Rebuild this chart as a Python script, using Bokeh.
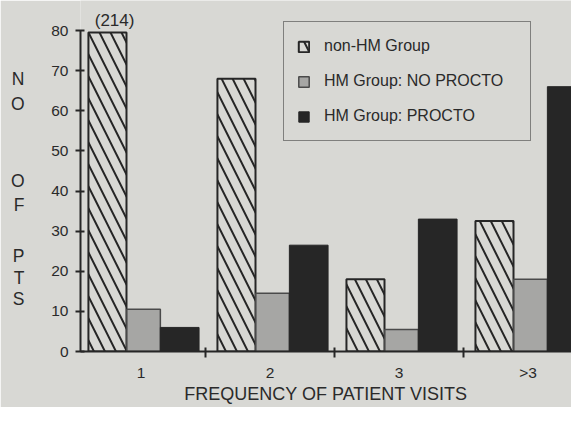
from bokeh.plotting import figure
from bokeh.models import (Range1d, FixedTicker, Label, Legend, LegendItem,
                          ColumnDataSource, LinearAxis)
from bokeh.embed import file_html
from bokeh.resources import INLINE

# ---- data ----
categories = ["1", "2", "3", ">3"]
series_names = ["non-HM Group", "HM Group: NO PROCTO", "HM Group: PROCTO"]
non_hm = [214, 68, 18, 32.5]
hm_no_procto = [10.5, 14.5, 5.5, 18]
hm_procto = [6, 26.5, 33, 66]
y_ticks = [0, 10, 20, 30, 40, 50, 60, 70, 80]
y_cap = 80
y_title = "NO OF PTS"
x_title = "FREQUENCY OF PATIENT VISITS"

# ---- style ----
BG = "#d8d8d4"
INK = "#262626"
TXT = "#2a2a2a"
GRAY = "#a6a6a4"
FONT = "Liberation Sans"

idx = list(range(len(categories)))

p = figure(width=571, height=407, output_backend="svg", toolbar_location=None,
           x_range=Range1d(0.031, 3.837), y_range=Range1d(0, 87.48),
           min_border_left=80, min_border_right=0, min_border_top=0,
           min_border_bottom=56)
p.background_fill_color = BG
p.border_fill_color = BG
p.outline_line_color = None
p.xgrid.visible = False
p.ygrid.visible = False

shown = [min(v, y_cap - 0.5) for v in non_hm]
src1 = ColumnDataSource(dict(x=[i + 0.24 for i in idx], top=shown))
src2 = ColumnDataSource(dict(x=[i + 0.52 for i in idx], top=hm_no_procto))
src3 = ColumnDataSource(dict(x=[i + 0.80 for i in idx], top=hm_procto))

r1 = p.vbar(x="x", top="top", width=0.295, source=src1, fill_color=BG,
            line_color=INK, line_width=2, hatch_pattern="\\", hatch_color=INK,
            hatch_weight=2, hatch_scale=22)
r2 = p.vbar(x="x", top="top", width=0.26, source=src2, fill_color=GRAY,
            line_color="#4a4a4a", line_width=1.5)
r3 = p.vbar(x="x", top="top", width=0.30, source=src3, fill_color=INK,
            line_color=INK, line_width=1)

# label of the clipped bar
p.add_layout(Label(x=0 + 0.295, y=82.5, text="(%d)" % non_hm[0], text_align="center",
                   text_baseline="middle", text_font=FONT, text_font_size="17px",
                   text_color=TXT))

# axes
xa = p.xaxis[0]
xa.ticker = FixedTicker(ticks=[i + 0.5 for i in idx], minor_ticks=idx[1:])
xa.major_label_overrides = {i + 0.5: c for i, c in zip(idx, categories)}
xa.axis_line_color = INK
xa.axis_line_width = 2
xa.major_tick_line_color = None
xa.major_tick_in = 0
xa.major_tick_out = 0
xa.minor_tick_line_color = INK
xa.minor_tick_line_width = 2
xa.minor_tick_in = 4
xa.minor_tick_out = 6
xa.major_label_standoff = 6
xa.major_label_text_font = FONT
xa.major_label_text_font_size = "15.5px"
xa.major_label_text_color = TXT
xa.major_label_text_line_height = 0.9
xa.axis_label = x_title
xa.axis_label_text_font = FONT
xa.axis_label_text_font_size = "18px"
xa.axis_label_text_font_style = "normal"
xa.axis_label_text_color = TXT
xa.axis_label_text_line_height = 0.9
xa.axis_label_standoff = 0

ya = p.yaxis[0]
ya.ticker = FixedTicker(ticks=y_ticks, minor_ticks=[])
ya.bounds = (0, y_cap)
ya.axis_line_color = INK
ya.axis_line_width = 2
ya.major_tick_line_color = INK
ya.major_tick_line_width = 2
ya.major_tick_in = 4
ya.major_tick_out = 5
ya.minor_tick_line_color = None
ya.major_label_standoff = 7
ya.major_label_text_font = FONT
ya.major_label_text_font_size = "15.5px"
ya.major_label_text_color = TXT

# stacked y-axis title letters, drawn as an extra left axis
letters = [c for c in y_title if c != " "]
letter_y = [68.0, 61.8, 42.6, 36.4, 23.7, 18.4, 13.0]
la = LinearAxis(ticker=FixedTicker(ticks=letter_y, minor_ticks=[]),
                major_label_overrides={v: c for v, c in zip(letter_y, letters)},
                axis_line_color=None, major_tick_line_color=None,
                minor_tick_line_color=None, major_tick_in=0, major_tick_out=0,
                major_label_standoff=24, major_label_text_font=FONT,
                major_label_text_font_size="17.5px", major_label_text_color=TXT)
p.add_layout(la, "left")

legend = Legend(items=[LegendItem(label=series_names[0], renderers=[r1]),
                       LegendItem(label=series_names[1], renderers=[r2]),
                       LegendItem(label=series_names[2], renderers=[r3])],
                location=(203, 210), orientation="vertical", padding=13,
                spacing=13, margin=0, label_height=22, label_width=193,
                glyph_height=13, glyph_width=13, label_standoff=14,
                border_line_color=INK, border_line_width=1.5,
                background_fill_alpha=0, label_text_font=FONT,
                label_text_font_size="16px", label_text_color=TXT)
p.add_layout(legend)

open("out.html", "w").write(file_html(p, INLINE))
